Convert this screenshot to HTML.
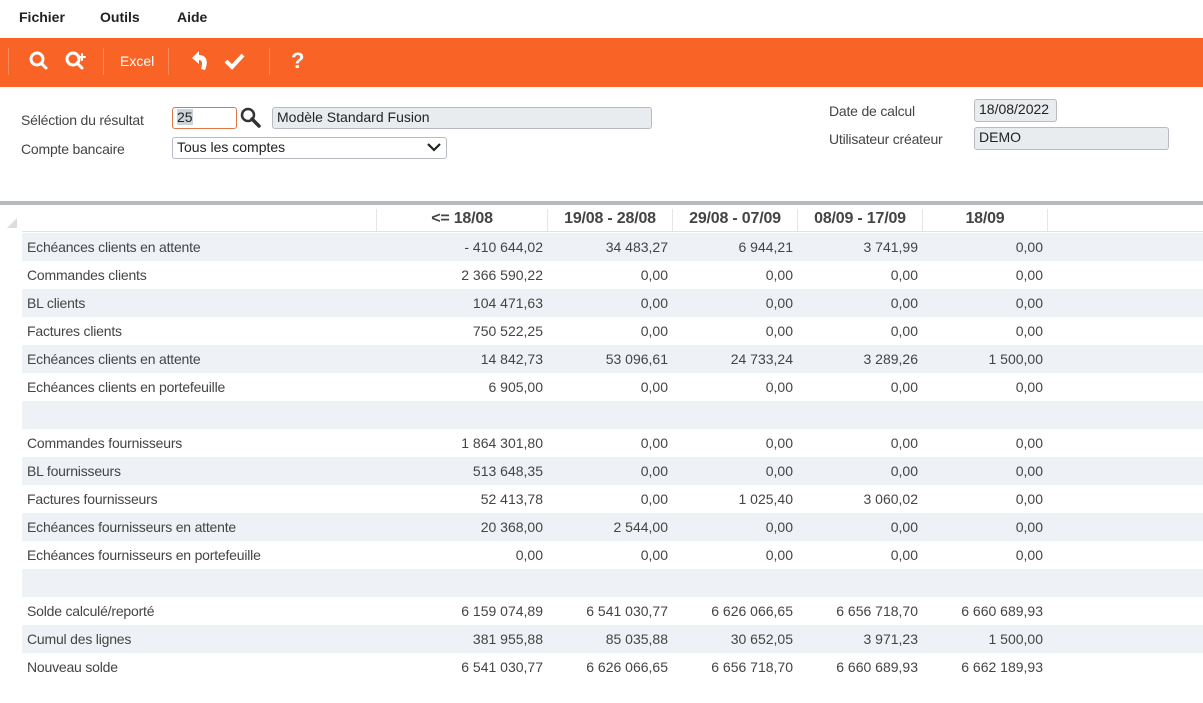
<!DOCTYPE html>
<html><head><meta charset="utf-8"><style>
*{margin:0;padding:0;box-sizing:border-box}
body{width:1203px;height:703px;background:#fff;font-family:"Liberation Sans","DejaVu Sans",sans-serif;color:#444;font-size:14px;position:relative;overflow:hidden}
.a{position:absolute;white-space:nowrap}
.menu{font-weight:bold;color:#222;font-size:14px;top:9px}
.bar{position:absolute;left:0;top:38px;width:1203px;height:49px;background:#f96326}
.sep{position:absolute;top:48px;width:1px;height:27px;background:#fb8a5c}
.ic{color:#fff;font-weight:bold;font-size:22px;top:48px}
.lbl{font-size:14px;color:#444;letter-spacing:-0.2px}
.box{position:absolute;border:1px solid #b8bcc2;border-radius:3px;background:#e9ecef;color:#222;font-size:14px;padding-left:4px;line-height:19px}
.row{position:absolute;left:22px;width:1181px;height:28px}
.row.s{background:#eef1f5}
.row span{position:absolute;top:6px;line-height:16px}
.row span.l{letter-spacing:-0.2px}
.v{text-align:right;width:150px}
.hd{position:absolute;top:209px;font-weight:bold;font-size:16px;color:#444;text-align:center;line-height:20px;letter-spacing:-0.2px}
</style></head><body>
<div class="a menu" style="left:19px">Fichier</div>
<div class="a menu" style="left:100px">Outils</div>
<div class="a menu" style="left:177px">Aide</div>
<div class="bar"></div>
<div class="sep" style="left:8px"></div>
<div class="sep" style="left:103px"></div>
<div class="sep" style="left:168px"></div>
<div class="sep" style="left:269px"></div>
<svg class="a" style="left:28px;top:50px" width="70" height="24" viewBox="0 0 70 24"><g stroke="#fff" stroke-width="3" fill="none" stroke-linecap="round"><circle cx="9" cy="9" r="6"/><line x1="13" y1="13" x2="18" y2="18"/><circle cx="45" cy="9" r="6"/><line x1="49" y1="13" x2="54" y2="18"/><line x1="54" y1="4" x2="54" y2="10" stroke-width="2"/><line x1="51" y1="7" x2="57" y2="7" stroke-width="2"/></g></svg>
<div class="a" style="left:120px;top:53px;color:#fff;font-size:14px">Excel</div>
<svg class="a" style="left:188px;top:49px" width="60" height="26" viewBox="0 0 60 26"><path d="M4 9 L11 2 L11 6 C18 6 21 12 17 21 L13 20 C15 14 14 11 11 11 L11 15 Z" fill="#fff"/><path d="M38 12 L44 18 L55 6" stroke="#fff" stroke-width="4" fill="none"/></svg>
<div class="a ic" style="left:291px">?</div>

<div class="a lbl" style="left:21px;top:112px">Séléction du résultat</div>
<div class="box" style="left:172px;top:107px;width:65px;height:22px;background:#fff;border-color:#e0784a"><span style="background:#cdd3da">25</span></div>
<svg class="a" style="left:240px;top:107px" width="22" height="22"><circle cx="8" cy="8" r="6" stroke="#333" stroke-width="2.5" fill="none"/><line x1="12" y1="12" x2="19" y2="19" stroke="#333" stroke-width="3.5" stroke-linecap="round"/></svg>
<div class="box" style="left:272px;top:107px;width:380px;height:22px">Modèle Standard Fusion</div>
<div class="a lbl" style="left:21px;top:141px">Compte bancaire</div>
<div class="box" style="left:172px;top:137px;width:275px;height:22px;background:#fff">Tous les comptes</div>
<svg class="a" style="left:427px;top:142px" width="14" height="10"><path d="M1 2 L7 8 L13 2" stroke="#222" stroke-width="2.2" fill="none"/></svg>
<div class="a lbl" style="left:829px;top:103px">Date de calcul</div>
<div class="box" style="left:974px;top:99px;width:83px;height:23px">18/08/2022</div>
<div class="a lbl" style="left:829px;top:131px">Utilisateur créateur</div>
<div class="box" style="left:974px;top:127px;width:195px;height:23px">DEMO</div>

<div class="a" style="left:0;top:201px;width:1203px;height:4px;background:#b6babf"></div>
<svg class="a" style="left:6px;top:217px" width="12" height="12"><path d="M11 1 L11 11 L1 11 Z" fill="#ddd"/></svg>
<div class="a" style="left:22px;top:231px;width:1181px;height:1px;background:#dde0e4"></div>
<div class="a" style="left:376px;top:209px;width:1px;height:22px;background:#e3e5e8"></div>
<div class="a" style="left:547px;top:209px;width:1px;height:22px;background:#e3e5e8"></div>
<div class="a" style="left:672px;top:209px;width:1px;height:22px;background:#e3e5e8"></div>
<div class="a" style="left:797px;top:209px;width:1px;height:22px;background:#e3e5e8"></div>
<div class="a" style="left:922px;top:209px;width:1px;height:22px;background:#e3e5e8"></div>
<div class="a" style="left:1047px;top:209px;width:1px;height:22px;background:#e3e5e8"></div>
<div class="hd" style="left:377px;width:170px">&lt;= 18/08</div>
<div class="hd" style="left:548px;width:124px">19/08 - 28/08</div>
<div class="hd" style="left:673px;width:124px">29/08 - 07/09</div>
<div class="hd" style="left:798px;width:124px">08/09 - 17/09</div>
<div class="hd" style="left:923px;width:124px">18/09</div>

<div id="rows"></div>
<script>
const d=[
["Echéances clients en attente","- 410 644,02","34 483,27","6 944,21","3 741,99","0,00"],
["Commandes clients","2 366 590,22","0,00","0,00","0,00","0,00"],
["BL clients","104 471,63","0,00","0,00","0,00","0,00"],
["Factures clients","750 522,25","0,00","0,00","0,00","0,00"],
["Echéances clients en attente","14 842,73","53 096,61","24 733,24","3 289,26","1 500,00"],
["Echéances clients en portefeuille","6 905,00","0,00","0,00","0,00","0,00"],
null,
["Commandes fournisseurs","1 864 301,80","0,00","0,00","0,00","0,00"],
["BL fournisseurs","513 648,35","0,00","0,00","0,00","0,00"],
["Factures fournisseurs","52 413,78","0,00","1 025,40","3 060,02","0,00"],
["Echéances fournisseurs en attente","20 368,00","2 544,00","0,00","0,00","0,00"],
["Echéances fournisseurs en portefeuille","0,00","0,00","0,00","0,00","0,00"],
null,
["Solde calculé/reporté","6 159 074,89","6 541 030,77","6 626 066,65","6 656 718,70","6 660 689,93"],
["Cumul des lignes","381 955,88","85 035,88","30 652,05","3 971,23","1 500,00"],
["Nouveau solde","6 541 030,77","6 626 066,65","6 656 718,70","6 660 689,93","6 662 189,93"]];
const R=[543,668,793,918,1043];let h="";
d.forEach((r,i)=>{h+=`<div class="row${i%2==0?' s':''}" style="top:${233+28*i}px">`;
if(r){h+=`<span class="l" style="left:5px">${r[0]}</span>`;for(let j=0;j<5;j++)h+=`<span class="v" style="left:${R[j]-22-150}px">${r[j+1]}</span>`;}
h+="</div>";});
document.getElementById("rows").innerHTML=h;
</script>
</body></html>
